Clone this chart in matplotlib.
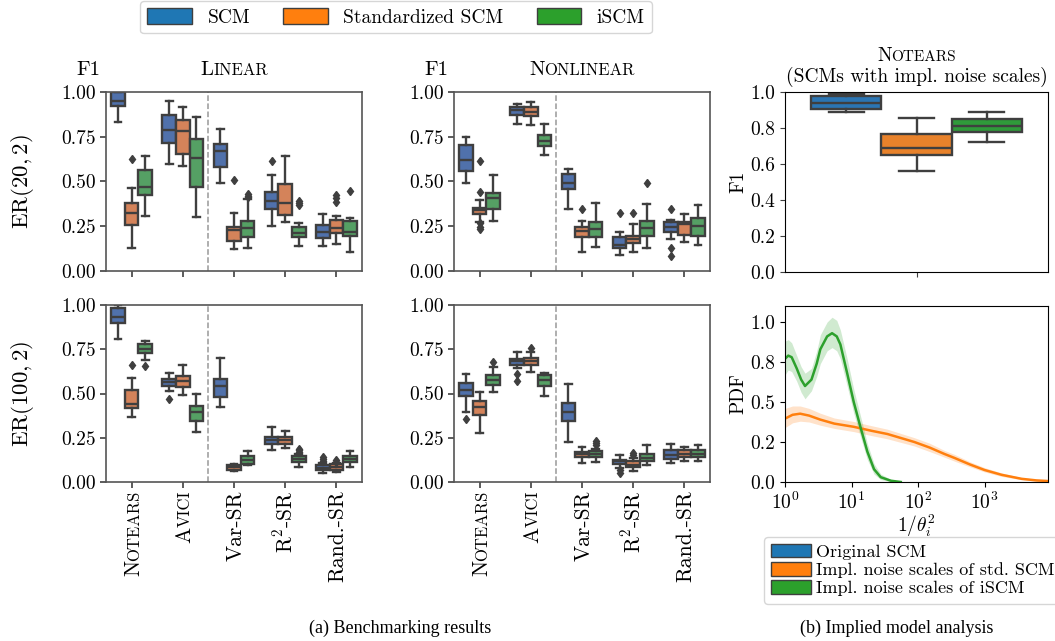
import matplotlib
matplotlib.use("Agg")
import matplotlib.pyplot as plt
import numpy as np
from matplotlib.patches import Patch
from matplotlib.ticker import FormatStrFormatter, NullLocator
from matplotlib.offsetbox import TextArea, HPacker, VPacker, AnnotationBbox
from matplotlib.textpath import TextPath
from matplotlib.font_manager import FontProperties

plt.rcParams['font.family'] = 'serif'
plt.rcParams['font.serif'] = ['cmr10']
plt.rcParams['mathtext.fontset'] = 'cm'
plt.rcParams['axes.formatter.use_mathtext'] = True
plt.rcParams['axes.unicode_minus'] = False

# ---- data: (whislo, q1, median, q3, whishi, fliers) per method ----
methods = ["Notears", "Avici", "Var-SR", "R$^2$-SR", "Rand.-SR"]
small_caps = [True, True, False, False, False]
series = ["SCM", "Standardized SCM", "iSCM"]

lin20_scm = [(0.83, 0.92, 0.95, 1.00, 1.00, []),
             (0.60, 0.715, 0.785, 0.873, 0.951, []),
             (0.49, 0.58, 0.673, 0.709, 0.795, []),
             (0.254, 0.347, 0.392, 0.444, 0.537, [0.612]),
             (0.14, 0.187, 0.22, 0.255, 0.317, [])]
lin20_std = [(0.13, 0.257, 0.323, 0.379, 0.466, [0.627]),
             (0.584, 0.653, 0.78, 0.845, 0.916, []),
             (0.121, 0.17, 0.229, 0.244, 0.323, [0.509]),
             (0.276, 0.313, 0.382, 0.485, 0.645, []),
             (0.149, 0.21, 0.239, 0.285, 0.308, [0.388, 0.407, 0.425])]
lin20_iscm = [(0.308, 0.425, 0.472, 0.565, 0.64, []),
              (0.30, 0.472, 0.634, 0.737, 0.86, []),
              (0.127, 0.188, 0.239, 0.282, 0.40, [0.413, 0.42, 0.428]),
              (0.14, 0.188, 0.21, 0.244, 0.267, [0.37, 0.379, 0.39]),
              (0.108, 0.198, 0.22, 0.282, 0.295, [0.448])]

lin100_scm = [(0.806, 0.897, 0.934, 0.981, 1.0, []),
              (0.515, 0.543, 0.564, 0.581, 0.615, [0.47]),
              (0.423, 0.483, 0.543, 0.581, 0.699, []),
              (0.182, 0.214, 0.239, 0.257, 0.308, []),
              (0.05, 0.066, 0.079, 0.095, 0.105, [0.12, 0.13, 0.14])]
lin100_std = [(0.37, 0.417, 0.442, 0.517, 0.59, [0.662]),
              (0.489, 0.536, 0.568, 0.60, 0.662, []),
              (0.06, 0.07, 0.083, 0.094, 0.103, []),
              (0.192, 0.214, 0.239, 0.254, 0.289, []),
              (0.058, 0.07, 0.085, 0.10, 0.108, [0.115, 0.122])]
lin100_iscm = [(0.69, 0.727, 0.752, 0.778, 0.799, [0.656]),
               (0.28, 0.342, 0.395, 0.427, 0.498, []),
               (0.098, 0.10, 0.126, 0.145, 0.173, []),
               (0.083, 0.111, 0.132, 0.145, 0.16, [0.17, 0.178, 0.186]),
               (0.083, 0.111, 0.13, 0.148, 0.173, [])]

non20_scm = [(0.49, 0.56, 0.621, 0.705, 0.746, []),
             (0.821, 0.869, 0.901, 0.914, 0.933, []),
             (0.347, 0.457, 0.494, 0.543, 0.571, []),
             (0.09, 0.131, 0.146, 0.188, 0.22, [0.323]),
             (0.177, 0.216, 0.244, 0.272, 0.285, [0.345, 0.13, 0.084])]
non20_std = [(0.276, 0.319, 0.341, 0.354, 0.397, [0.444, 0.267, 0.248, 0.235, 0.612]),
             (0.813, 0.867, 0.888, 0.914, 0.944, []),
             (0.108, 0.192, 0.226, 0.248, 0.282, [0.347]),
             (0.104, 0.155, 0.179, 0.196, 0.263, [0.323]),
             (0.16, 0.20, 0.26, 0.274, 0.32, [])]
non20_iscm = [(0.282, 0.347, 0.407, 0.438, 0.537, []),
              (0.646, 0.701, 0.728, 0.757, 0.821, []),
              (0.136, 0.192, 0.235, 0.272, 0.379, []),
              (0.131, 0.198, 0.243, 0.282, 0.373, [0.494]),
              (0.145, 0.196, 0.25, 0.297, 0.37, [])]

non100_scm = [(0.395, 0.487, 0.521, 0.562, 0.609, [0.355]),
              (0.645, 0.662, 0.684, 0.695, 0.737, [0.611, 0.568]),
              (0.224, 0.342, 0.393, 0.449, 0.553, []),
              (0.079, 0.101, 0.117, 0.126, 0.154, [0.066, 0.051]),
              (0.11, 0.13, 0.154, 0.178, 0.216, [])]
non100_std = [(0.276, 0.38, 0.421, 0.46, 0.508, []),
              (0.62, 0.662, 0.684, 0.699, 0.737, [0.756]),
              (0.107, 0.139, 0.158, 0.167, 0.195, []),
              (0.064, 0.085, 0.098, 0.117, 0.135, [0.15, 0.164]),
              (0.12, 0.14, 0.16, 0.18, 0.20, [])]
non100_iscm = [(0.511, 0.549, 0.577, 0.605, 0.648, [0.68]),
               (0.487, 0.543, 0.577, 0.605, 0.615, []),
               (0.111, 0.139, 0.16, 0.173, 0.186, [0.207, 0.22, 0.233]),
               (0.098, 0.117, 0.135, 0.16, 0.207, []),
               (0.12, 0.14, 0.16, 0.18, 0.21, [])]

impl_labels = ["Original SCM", "Impl. noise scales of std. SCM", "Impl. noise scales of iSCM"]
impl_boxes = [(0.889, 0.906, 0.939, 0.976, 0.989, []),
              (0.559, 0.652, 0.689, 0.767, 0.856, []),
              (0.722, 0.776, 0.813, 0.852, 0.889, [])]

# implied noise scale densities (x = 1/theta_i^2)
green_x = [1.0, 1.12, 1.26, 1.5, 1.75, 2.0, 2.5, 3.0, 3.4, 4.3, 5.1, 6.0, 6.8, 8.6, 10.8, 13.7, 17.3, 21.8, 27.5, 39, 55]
green_y = [0.77, 0.79, 0.78, 0.71, 0.64, 0.60, 0.64, 0.74, 0.83, 0.91, 0.93, 0.91, 0.86, 0.68, 0.50, 0.34, 0.19, 0.08, 0.03, 0.008, 0.0]
green_lo = [0.67, 0.70, 0.69, 0.63, 0.56, 0.52, 0.57, 0.66, 0.74, 0.82, 0.84, 0.82, 0.77, 0.60, 0.43, 0.28, 0.14, 0.05, 0.015, 0.002, 0.0]
green_hi = [0.88, 0.89, 0.87, 0.79, 0.72, 0.68, 0.71, 0.82, 0.92, 1.00, 1.03, 1.01, 0.95, 0.77, 0.58, 0.41, 0.24, 0.115, 0.05, 0.016, 0.003]
orange_x = [1.0, 1.3, 1.69, 2.3, 3.39, 5.5, 10.8, 20, 34.6, 88, 150, 250, 355, 600, 1000, 1800, 3600, 6000, 9000]
orange_y = [0.396, 0.42, 0.427, 0.415, 0.39, 0.365, 0.345, 0.32, 0.30, 0.25, 0.215, 0.175, 0.15, 0.11, 0.075, 0.045, 0.02, 0.01, 0.006]
orange_lo = [0.34, 0.37, 0.38, 0.375, 0.355, 0.335, 0.315, 0.29, 0.27, 0.225, 0.19, 0.155, 0.13, 0.095, 0.063, 0.035, 0.014, 0.006, 0.003]
orange_hi = [0.46, 0.475, 0.475, 0.46, 0.43, 0.40, 0.378, 0.352, 0.33, 0.277, 0.242, 0.197, 0.172, 0.127, 0.09, 0.057, 0.028, 0.016, 0.011]

# ---- styles ----
EDGE = '#3f3f3f'
LW = 1.7
left_colors = ['#5071ab', '#d4835a', '#55a064']
right_colors = ['#2b75b3', '#e8822b', '#2f9a3a']
legend_colors = ['#1f77b4', '#ff7f0e', '#2ca02c']
TICK = 14

W, H = 1055, 641
fig = plt.figure(figsize=(W / 100, H / 100), dpi=100)


def frac(x0, y0, x1, y1):
    return [x0 / W, 1 - y1 / H, (x1 - x0) / W, (y1 - y0) / H]


def draw_boxes(ax, stats, pos, color, width):
    bs = [dict(whislo=s[0], q1=s[1], med=s[2], q3=s[3], whishi=s[4], fliers=s[5]) for s in stats]
    ax.bxp(bs, positions=pos, widths=width, patch_artist=True, manage_ticks=False,
           boxprops=dict(facecolor=color, edgecolor=EDGE, linewidth=LW),
           medianprops=dict(color=EDGE, linewidth=LW),
           whiskerprops=dict(color=EDGE, linewidth=LW),
           capprops=dict(color=EDGE, linewidth=LW),
           flierprops=dict(marker='d', markerfacecolor=EDGE, markeredgecolor=EDGE, markersize=4.5))


def sc_box(word, big, small):
    return HPacker(children=[TextArea(word[0], textprops=dict(fontsize=big)),
                             TextArea(word[1:].upper(), textprops=dict(fontsize=small))],
                   align="baseline", pad=0, sep=0)


def vertical_label(ax, x, word, sc, big=15.5, small=12, pad=6):
    shift = 0.34 * big
    kw = dict(xycoords=('data', 'axes fraction'), textcoords='offset points', rotation=90,
              rotation_mode='anchor', ha='right', va='baseline', annotation_clip=False)
    if sc:
        rest = word[1:].upper()
        w = TextPath((0, 0), rest, prop=FontProperties(family='cmr10', size=small)).get_extents().width
        ax.annotate(rest, xy=(x, 0), xytext=(shift, -pad), fontsize=small, **kw)
        ax.annotate(word[0], xy=(x, 0), xytext=(shift, -pad - w - 0.8), fontsize=big, **kw)
    else:
        ax.annotate(word, xy=(x, 0), xytext=(shift, -pad), fontsize=big, **kw)


panels = [
    (frac(106, 92, 362, 271), [lin20_scm, lin20_std, lin20_iscm], "Linear", False),
    (frac(454, 92, 710, 271), [non20_scm, non20_std, non20_iscm], "Nonlinear", False),
    (frac(106, 305, 362, 482), [lin100_scm, lin100_std, lin100_iscm], None, True),
    (frac(454, 305, 710, 482), [non100_scm, non100_std, non100_iscm], None, True),
]
hw = 0.8 / 3
cat_x = np.arange(len(methods))
for rect, groups, title, bottom in panels:
    ax = fig.add_axes(rect)
    for j, stats in enumerate(groups):
        draw_boxes(ax, stats, cat_x + (j - 1) * hw, left_colors[j], hw)
    ax.axvline(1.5, color='#999999', ls='--', lw=1.1)
    ax.set_xlim(-0.5, len(methods) - 0.5)
    ax.set_ylim(0, 1)
    ax.set_yticks([0, 0.25, 0.5, 0.75, 1.0])
    ax.yaxis.set_major_formatter(FormatStrFormatter('%.2f'))
    ax.set_xticks(cat_x)
    ax.set_xticklabels([])
    ax.tick_params(labelsize=TICK, color=EDGE, length=4, width=1.2)
    for s in ax.spines.values():
        s.set_color('#555555')
        s.set_linewidth(1.2)
    if title:
        ax.text(-0.07, 1.12, "F1", transform=ax.transAxes, fontsize=15, ha='center', va='center')
        ab = AnnotationBbox(sc_box(title, 15, 12), (0.5, 1.075), xycoords='axes fraction',
                            box_alignment=(0.5, 0), frameon=False, pad=0)
        ax.add_artist(ab)
    if bottom:
        for i, m in enumerate(methods):
            vertical_label(ax, i, m, small_caps[i])

fig.text(22 / W, 1 - 182 / H, r"$\mathrm{ER}(20, 2)$", rotation=90, fontsize=16.5, ha='center', va='center')
fig.text(22 / W, 1 - 394 / H, r"$\mathrm{ER}(100, 2)$", rotation=90, fontsize=16.5, ha='center', va='center')

# right top: F1 boxes for implied models
axr = fig.add_axes(frac(785, 92, 1048, 272))
for j, st in enumerate(impl_boxes):
    draw_boxes(axr, [st], [(j - 1) * hw], right_colors[j], hw)
axr.set_xlim(-0.5, 0.5)
axr.set_ylim(0, 1)
axr.set_xticks([0])
axr.set_xticklabels([])
axr.set_yticks(np.arange(0, 1.01, 0.2))
axr.yaxis.set_major_formatter(FormatStrFormatter('%.1f'))
axr.tick_params(labelsize=TICK, color=EDGE)
axr.set_ylabel("F1", fontsize=14, labelpad=2)
ttl = VPacker(children=[sc_box("Notears", 14, 11),
                        TextArea("(SCMs with impl. noise scales)", textprops=dict(fontsize=14))],
              align="center", pad=0, sep=1)
axr.add_artist(AnnotationBbox(ttl, (0.5, 1.03), xycoords='axes fraction',
                              box_alignment=(0.5, 0), frameon=False, pad=0))

# right bottom: densities
axp = fig.add_axes(frac(785, 306, 1048, 482))
axp.fill_between(orange_x, orange_lo, orange_hi, color='#ff7f0e', alpha=0.22, lw=0)
axp.plot(orange_x, orange_y, color='#ff7f0e', lw=1.8)
axp.fill_between(green_x, green_lo, green_hi, color='#2ca02c', alpha=0.22, lw=0)
axp.plot(green_x, green_y, color='#2ca02c', lw=1.8)
axp.set_xscale('log')
axp.set_xlim(1, 9000)
axp.set_ylim(0, 1.1)
axp.xaxis.set_minor_locator(NullLocator())
axp.set_yticks([0, 0.25, 0.5, 0.75, 1.0])
axp.yaxis.set_major_formatter(FormatStrFormatter('%.1f'))
axp.tick_params(labelsize=TICK)
axp.set_ylabel("PDF", fontsize=14, labelpad=2)
axp.set_xlabel(r"$1/\theta_i^2$", fontsize=14, labelpad=0)

# legends
top_handles = [Patch(facecolor=c, edgecolor=EDGE, lw=1.0) for c in legend_colors]
fig.legend(top_handles, series, loc='upper center', bbox_to_anchor=(396 / W, 1 - 1 / H), ncol=3,
           fontsize=14, handlelength=2.3, handleheight=0.9, columnspacing=1.7,
           borderpad=0.35, borderaxespad=0, edgecolor='#cccccc')
fig.legend(top_handles, impl_labels, loc='upper left', bbox_to_anchor=(764 / W, 1 - 537 / H),
           fontsize=13, handlelength=2.2, handleheight=0.75, labelspacing=0.12,
           borderpad=0.4, borderaxespad=0, handletextpad=0.3, edgecolor='#cccccc')

fig.text(400 / W, 1 - 628 / H, "(a) Benchmarking results", family='Liberation Serif',
         fontsize=13, ha='center', va='center')
fig.text(897 / W, 1 - 628 / H, "(b) Implied model analysis", family='Liberation Serif',
         fontsize=13, ha='center', va='center')

fig.savefig("out.png", dpi=100)
